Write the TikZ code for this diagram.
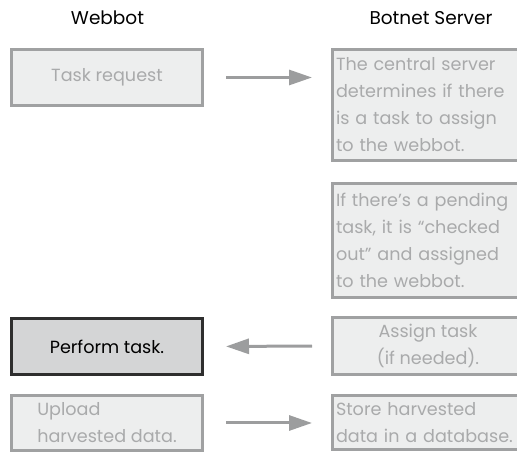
\documentclass[tikz,border=0pt]{standalone}
\usepackage{fontspec}
\setmainfont{Poppins}
\usetikzlibrary{arrows.meta}
\definecolor{boxfill}{HTML}{EDEEEE}
\definecolor{boxline}{HTML}{A0A1A2}
\definecolor{boxtext}{HTML}{A9AAAB}
\definecolor{donefill}{HTML}{D4D5D6}
\definecolor{doneline}{HTML}{2E2E2E}
\definecolor{flowgray}{HTML}{9C9D9E}
\begin{document}
\begin{tikzpicture}[x=1pt,y=1pt,
    stepbox/.style={draw=boxline, fill=boxfill, line width=3pt, text=boxtext,
      font=\fontsize{17.6}{27}\selectfont, inner sep=0pt},
    leftbox/.style={stepbox, minimum width=191pt},
    rightbox/.style={stepbox, anchor=west, text width=200pt, align=left, inner xsep=3.5pt},
    flow/.style={draw=flowgray, line width=3pt, -{Triangle[length=23pt,width=15pt]}},
    title/.style={anchor=base, font=\fontsize{18.5}{22}\selectfont}]
  \useasboundingbox (0,0) rectangle (517,452);
  % column titles
  \node[title] (webbot) at (107.5,427) {Webbot};
  \node[title] (server) at (431,427) {Botnet Server};
  % webbot side
  \node[leftbox, minimum height=56pt] (request) at (107,374.5) {Task request};
  \node[leftbox, minimum height=56pt, fill=donefill, draw=doneline, text=black] (perform) at (107,105.5) {Perform task.};
  \node[leftbox, minimum height=55pt, align=left] (upload) at (107,29) {Upload\\harvested data.};
  % server side
  \node[rightbox, minimum height=111pt] (central) at (331,347) {The central server\\determines if there\\is a task to assign\\to the webbot.};
  \node[rightbox, minimum height=114pt] (pending) at (331,211.5) {If there’s a pending\\task, it is “checked\\out” and assigned\\to the webbot.};
  \node[leftbox, minimum height=57pt, align=center] (assign) at (428,106) {Assign task\\(if needed).};
  \node[rightbox, minimum height=54pt] (store) at (331,29.5) {Store harvested\\data in a database.};
  % arrows
  \draw[flow, shorten <=22pt, shorten >=19pt] (request.east) -- (request.east -| central.west);
  \draw[flow, shorten <=19pt, shorten >=22pt] (assign.west) -- (perform.east);
  \draw[flow, shorten <=22pt, shorten >=19pt] (upload.east) -- (upload.east -| store.west);
\end{tikzpicture}
\end{document}
